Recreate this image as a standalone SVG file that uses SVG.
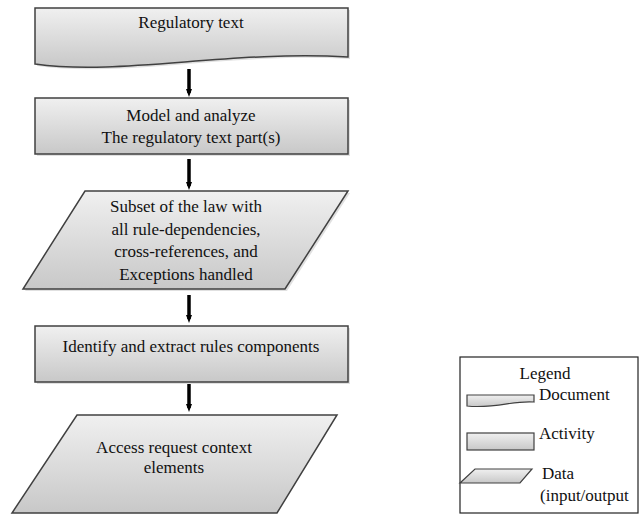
<svg xmlns="http://www.w3.org/2000/svg" width="640" height="515" viewBox="0 0 640 515">
<defs>
<linearGradient id="g" x1="0" y1="0" x2="0" y2="1">
<stop offset="0" stop-color="#f0f0f0"/>
<stop offset="1" stop-color="#c8c8c8"/>
</linearGradient>
<marker id="ah" markerWidth="8" markerHeight="8" refX="4" refY="4" orient="auto" markerUnits="userSpaceOnUse">
<path d="M0,1 L8,4 L0,7 Z" fill="#000"/>
</marker>
</defs>
<rect width="640" height="515" fill="#fff"/>
<g fill="#000" fill-opacity="0.12" stroke="none">
<path d="M37,10 H350 V59 C232,52 122,78 37,66 Z"/>
<rect x="37" y="100" width="313" height="56"/>
<path d="M87,193 H350 L287,291 H25 Z"/>
<rect x="37" y="328" width="313" height="56"/>
</g>
<g id="n1">
<path fill="url(#g)" stroke="#404040" stroke-width="1.5" d="M35,8 H348 V57 C230,50 120,76 35,64 Z"/>
<text font-family="Liberation Serif" font-size="17" fill="#111" text-anchor="middle" x="191" y="28">Regulatory text</text>
</g>
<g id="n2">
<rect fill="url(#g)" stroke="#404040" stroke-width="1.5" x="35" y="98" width="313" height="56"/>
<text font-family="Liberation Serif" font-size="17" fill="#111" text-anchor="middle" x="191" y="121">Model and analyze</text>
<text font-family="Liberation Serif" font-size="17" fill="#111" text-anchor="middle" x="191" y="143">The regulatory text part(s)</text>
</g>
<g id="n3">
<path fill="url(#g)" stroke="#404040" stroke-width="1.5" d="M85,191 H348 L285,289 H23 Z"/>
<text font-family="Liberation Serif" font-size="17" fill="#111" text-anchor="middle" x="186" y="212">Subset of the law with</text>
<text font-family="Liberation Serif" font-size="17" fill="#111" text-anchor="middle" x="186" y="235">all rule-dependencies,</text>
<text font-family="Liberation Serif" font-size="17" fill="#111" text-anchor="middle" x="186" y="257">cross-references, and</text>
<text font-family="Liberation Serif" font-size="17" fill="#111" text-anchor="middle" x="186" y="280">Exceptions handled</text>
</g>
<g id="n4">
<rect fill="url(#g)" stroke="#404040" stroke-width="1.5" x="35" y="326" width="313" height="56"/>
<text font-family="Liberation Serif" font-size="17" fill="#111" text-anchor="middle" x="191" y="352">Identify and extract rules components</text>
</g>
<g id="n5">
<path fill="url(#g)" stroke="#404040" stroke-width="1.5" d="M77,415 H337 L277,513 H12 Z"/>
<text font-family="Liberation Serif" font-size="17" fill="#111" text-anchor="middle" x="174" y="453">Access request context</text>
<text font-family="Liberation Serif" font-size="17" fill="#111" text-anchor="middle" x="174" y="473">elements</text>
</g>
<g id="connectors" stroke="#000" stroke-width="3.5" fill="none" marker-end="url(#ah)">
<line x1="189" y1="69" x2="189" y2="93"/>
<line x1="189" y1="159" x2="189" y2="186"/>
<line x1="189" y1="295" x2="189" y2="319"/>
<line x1="189" y1="384" x2="189" y2="408"/>
</g>
<g id="legend">
<rect x="460" y="357" width="178" height="156" fill="#fff" stroke="#222" stroke-width="1.2"/>
<text font-family="Liberation Serif" font-size="17" fill="#111" text-anchor="middle" x="545" y="379">Legend</text>
<path fill="url(#g)" stroke="#404040" stroke-width="1.2" d="M467,395 H534 V402 C515,400 495,409 467,406 Z"/>
<text font-family="Liberation Serif" font-size="17" fill="#111" x="539" y="400">Document</text>
<rect fill="url(#g)" stroke="#404040" stroke-width="1.2" x="467" y="433" width="67" height="17"/>
<text font-family="Liberation Serif" font-size="17" fill="#111" x="539" y="439">Activity</text>
<path fill="url(#g)" stroke="#404040" stroke-width="1.2" d="M475,469 H532 L520,483 H460 Z"/>
<text font-family="Liberation Serif" font-size="17" fill="#111" x="542" y="479">Data</text>
<text font-family="Liberation Serif" font-size="17" fill="#111" x="540" y="501">(input/output</text>
</g>
</svg>
